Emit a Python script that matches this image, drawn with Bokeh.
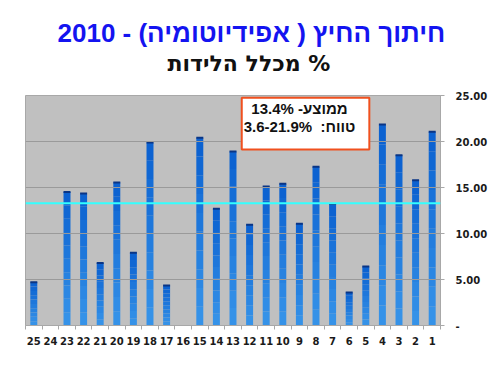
from bokeh.plotting import figure
from bokeh.models import (Range1d, LinearAxis, FixedTicker, Span, Label, Title)
from bokeh.embed import file_html
from bokeh.resources import INLINE
import numpy as np

# ---- data ----
categories = ["25", "24", "23", "22", "21", "20", "19", "18", "17", "16", "15", "14", "13",
              "12", "11", "10", "9", "8", "7", "6", "5", "4", "3", "2", "1"]
values = [4.7, 0.0, 14.5, 14.35, 6.8, 15.55, 7.9, 19.9, 4.35, 0.0, 20.4, 12.7, 18.9,
          10.95, 15.1, 15.4, 11.05, 17.25, 13.2, 3.6, 6.4, 21.85, 18.5, 15.8, 21.05]
mean_line = 13.3
y_ticks = [0, 5, 10, 15, 20, 25]
y_tick_labels = ["-", "5.00", "10.00", "15.00", "20.00", "25.00"]
title_text = "חיתוך החיץ ( אפידיוטומיה) - 2010"
subtitle_text = "\u200F% מכלל הלידות"
box_text = "ממוצע- 13.4%\nטווח:\u00a0 3.6-21.9%"

n = len(categories)
xs = np.arange(n) + 0.5
vals = np.array(values)

p = figure(width=500, height=375, output_backend="svg", toolbar_location=None,
           x_range=Range1d(0, n), y_range=Range1d(0, 25),
           min_border_left=25, min_border_right=60, min_border_bottom=50, min_border_top=95)
p.background_fill_color = "#C0C0C0"
p.border_fill_color = "white"
p.outline_line_color = "#A8A8A8"
p.xaxis.visible = False
p.yaxis.visible = False
p.xgrid.visible = False
p.ygrid.visible = False

# horizontal grid
for t in y_ticks[1:-1]:
    p.add_layout(Span(location=t, dimension="width", line_color="#9A9A9A", line_width=1))

# gradient-ish bars: stacked segments from bottom (light) to top (dark)
seg = 10
c_top = np.array([0x0A, 0x60, 0xD0])
c_bot = np.array([0x38, 0x95, 0xEA])
bw = 0.42
for k in range(seg):
    f = (k + 0.5) / seg
    c = c_bot + (c_top - c_bot) * f
    col = "#%02x%02x%02x" % tuple(int(v) for v in c)
    p.vbar(x=xs, bottom=vals * k / seg, top=vals * (k + 1) / seg, width=bw,
           fill_color=col, line_color=None)
# dark top caps
mask = vals > 0
p.segment(x0=xs[mask] - bw / 2, x1=xs[mask] + bw / 2, y0=vals[mask], y1=vals[mask],
          line_color="#0A3585", line_width=2)

# mean line
p.add_layout(Span(location=mean_line, dimension="width", line_color="#33FFFF", line_width=2))

# right axis
yax = LinearAxis(ticker=FixedTicker(ticks=y_ticks),
                 major_label_overrides={t: l for t, l in zip(y_ticks, y_tick_labels)})
yax.axis_line_color = "#A8A8A8"
yax.major_tick_line_color = "#A8A8A8"
yax.major_tick_out = 4
yax.major_tick_in = 0
yax.minor_tick_line_color = None
yax.major_label_standoff = 11
yax.major_label_text_font = "DejaVu Sans"
yax.major_label_text_font_style = "bold"
yax.major_label_text_font_size = "10px"
yax.major_label_text_color = "#1A1A1A"
p.add_layout(yax, "right")

# bottom axis: labels at centres, ticks at boundaries
xax = LinearAxis(ticker=FixedTicker(ticks=list(xs), minor_ticks=list(range(n + 1))),
                 major_label_overrides={float(x): c for x, c in zip(xs, categories)})
xax.axis_line_color = "#A8A8A8"
xax.major_tick_line_color = None
xax.major_tick_out = 4
xax.major_tick_in = 0
xax.minor_tick_line_color = "#A8A8A8"
xax.minor_tick_out = 4
xax.minor_tick_in = 0
xax.major_label_standoff = 7
xax.major_label_text_font = "DejaVu Sans"
xax.major_label_text_font_style = "bold"
xax.major_label_text_font_size = "10px"
xax.major_label_text_color = "#1A1A1A"
p.add_layout(xax, "below")

# annotation box
lab = Label(x=16.87, y=24.75, text=box_text, text_align="center", text_baseline="top",
            text_font="Liberation Sans", text_font_style="bold", text_font_size="15px",
            text_color="#111111", text_line_height=1.1,
            background_fill_color="white", border_line_color="#F0501E", border_line_width=2,
            padding=[2, 14, 2, 14])
p.add_layout(lab)

# titles (a blank spacer panel sits between the frame and the subtitle)
p.add_layout(Title(text=" ", text_font_size="1px", standoff=17), "above")
p.add_layout(Title(text=subtitle_text, align="left", offset=142, text_font="DejaVu Sans",
                   text_font_style="bold", text_font_size="22px", text_color="#111111",
                   standoff=0), "above")
p.add_layout(Title(text=title_text, align="left", offset=32, text_font="Liberation Sans",
                   text_font_style="bold", text_font_size="26px", text_color="#1414F0",
                   standoff=1), "above")

open("out.html", "w").write(file_html(p, INLINE))
